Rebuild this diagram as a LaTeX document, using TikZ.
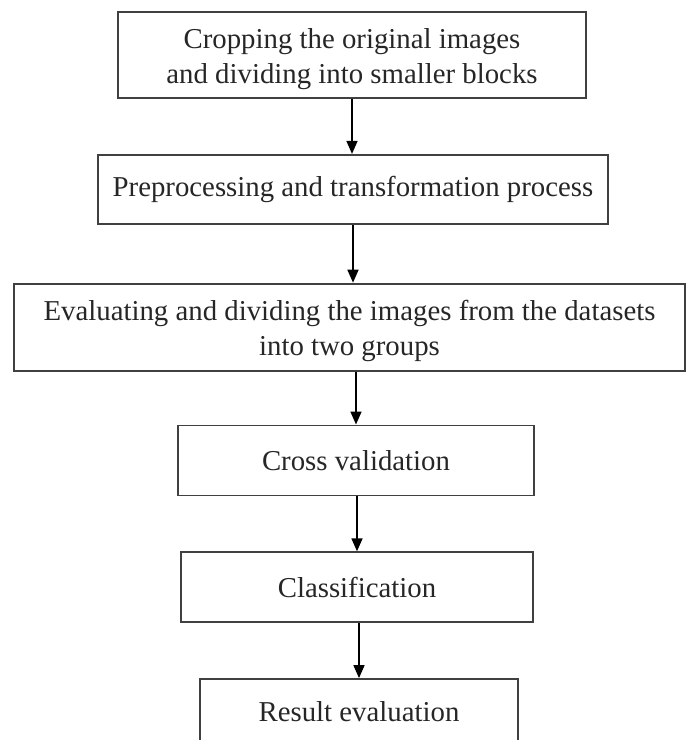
\documentclass[tikz,border=0pt]{standalone}
\usepackage{fontspec}
\setmainfont{Liberation Serif}
\usetikzlibrary{positioning,arrows.meta}

\begin{document}
\begin{tikzpicture}[x=1pt,y=-1pt,>={Triangle[width=11pt,length=13pt]},node distance=55pt,line width=1.6pt]
\tikzstyle{stage}=[rectangle,draw=black!75,line width=1.8pt,align=center,inner sep=0pt,font=\fontsize{28.8}{35}\selectfont,text=black!85]
\useasboundingbox (0,0) rectangle (687,740);
\clip (0,0) rectangle (687,740);
\node[stage,minimum width=468pt,minimum height=86pt,text height=64pt]	(crop)					at (352,55)	{Cropping the original images\\and dividing into smaller blocks};
\node[stage,minimum width=510pt,minimum height=69pt]	(prep)	[below = of crop, xshift=1pt]			{Preprocessing and transformation process};
\node[stage,minimum width=671pt,minimum height=87pt,text height=63pt]	(eval)	[below = 58pt of prep, xshift=-3.5pt]	{Evaluating and dividing the images from the datasets\\into two groups};
\node[stage,minimum width=356pt,minimum height=70pt]	(cross)	[below = 53pt of eval, xshift=6.5pt]	{Cross validation};
\node[stage,minimum width=352pt,minimum height=70pt]	(class)	[below = of cross, xshift=1pt]		{Classification};
\node[stage,minimum width=318pt,minimum height=76pt,text depth=12pt]	(result)	[below = of class, xshift=2pt]		{Result evaluation};
\path[->]	(crop)				edge	(crop |- prep.north)
	(prep)				edge	(eval.north -| prep)
	(eval.south -| cross)	edge	(cross)
	(class |- cross.south)	edge	(class)
	(result |- class.south)	edge	(result);
\end{tikzpicture}
\end{document}
